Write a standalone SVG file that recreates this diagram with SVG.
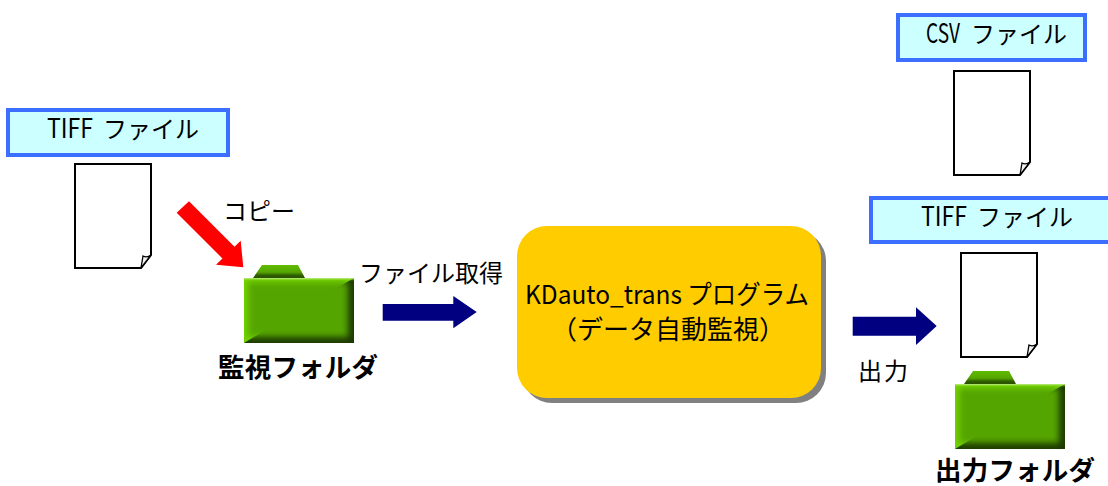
<svg xmlns="http://www.w3.org/2000/svg" xmlns:xlink="http://www.w3.org/1999/xlink" width="1108" height="486" viewBox="0 0 1108 486">
<style>
text{font-family:"Noto Sans CJK JP","Liberation Sans",sans-serif;fill:#000}
.lbl{fill:#ccffff;stroke:#3c6eff;stroke-width:4}
.doc{fill:#fff;stroke:#000;stroke-width:2;stroke-linejoin:miter}
.fold{fill:#f2f2f2;stroke:#000;stroke-width:1.3}
.t23{font-size:24px}
.lat{font-size:27px}
.t24{font-size:24px}
.t26{font-size:26px}
.b26{font-size:26.5px;font-weight:700}
</style>
<defs>
<filter id="soft" x="-30%" y="-30%" width="160%" height="160%"><feGaussianBlur stdDeviation="3"/></filter>
<clipPath id="bodyclip"><rect x="0" y="13" width="110" height="65"/></clipPath>
<linearGradient id="gtab" x1="0" x2="0" y1="0" y2="1"><stop offset="0" stop-color="#60bc00"/><stop offset=".55" stop-color="#55a500"/><stop offset=".8" stop-color="#2f5c00"/><stop offset="1" stop-color="#2a5200"/></linearGradient>
<linearGradient id="gt" x1="0" x2="0" y1="0" y2="1"><stop offset="0" stop-color="#c4ee90"/><stop offset="1" stop-color="#7ad800" stop-opacity="0"/></linearGradient>
<g id="folder">
<path d="M9 13 L18 0 H54 L61 13 Z" fill="url(#gtab)"/>
<g clip-path="url(#bodyclip)">
<rect x="0" y="13" width="110" height="65" fill="#74d400"/>
<polygon points="110,13 110,78 0,78 55,45" fill="#1d3a00"/>
<rect x="4" y="17" width="100" height="55" fill="#55a500" filter="url(#soft)"/>
<rect x="0" y="13" width="110" height="3" fill="url(#gt)"/>
</g>
</g>
<g id="doc">
<path class="doc" d="M0 0 H76 V91 L66 104 H0 Z"/>
<path class="fold" d="M66 104 L68 92 Q72 94 76 91 Z"/>
</g>
</defs>

<g id="connectors">
<polygon id="copy-arrow" points="189,201.3 234.5,246.8 240.7,240.7 243.3,267.3 216,264.7 222.5,258.5 176.7,212.7" fill="#ff0000"/>
<polygon id="get-arrow" points="382.7,304 453.3,304 453.3,296 476.7,312 453.3,328.3 453.3,320.7 382.7,320.7" fill="#000080"/>
<polygon id="out-arrow" points="852.7,316.7 916,316.7 916,307.3 936.7,326 916,345 916,335.7 852.7,335.7" fill="#000080"/>
</g>

<g id="tiff-label-left">
<rect class="lbl" x="8" y="110" width="220" height="45"/>
<text class="t23" x="47" y="138"><tspan class="lat" textLength="46" lengthAdjust="spacingAndGlyphs">TIFF</tspan><tspan x="103">ファイル</tspan></text>
</g>
<g id="tiff-doc-left"><use href="#doc" x="75" y="164"/></g>
<g id="copy-label"><text class="t24" x="223" y="220" textLength="72">コピー</text></g>
<g id="watch-folder">
<use href="#folder" x="244" y="265"/>
<text class="b26" x="218" y="377" textLength="160">監視フォルダ</text>
</g>
<g id="get-label"><text class="t24" x="359" y="282" textLength="144">ファイル取得</text></g>
<g id="program">
<rect x="522" y="231" width="304" height="172" rx="30" fill="#808080"/>
<rect x="517" y="226" width="304" height="172" rx="30" fill="#ffcc00"/>
<text class="t26" x="525" y="304" textLength="284" lengthAdjust="spacingAndGlyphs">KDauto_trans プログラム</text>
<text class="t26" x="668" y="339" text-anchor="middle">（データ自動監視）</text>
</g>
<g id="csv-label">
<rect class="lbl" x="898" y="15" width="187" height="45"/>
<text class="t23" x="926" y="43"><tspan class="lat" textLength="34" lengthAdjust="spacingAndGlyphs">CSV</tspan><tspan x="971">ファイル</tspan></text>
</g>
<g id="csv-doc"><use href="#doc" x="954" y="71"/></g>
<g id="tiff-label-right">
<rect class="lbl" x="871" y="198" width="240" height="44"/>
<text class="t23" x="921" y="226"><tspan class="lat" textLength="46" lengthAdjust="spacingAndGlyphs">TIFF</tspan><tspan x="977">ファイル</tspan></text>
</g>
<g id="tiff-doc-right"><use href="#doc" x="961" y="253"/></g>
<g id="out-label"><text class="t24" x="858" y="380" textLength="50">出力</text></g>
<g id="out-folder">
<use href="#folder" x="955" y="371"/>
<text class="b26" x="935" y="480" textLength="160">出力フォルダ</text>
</g>
</svg>
